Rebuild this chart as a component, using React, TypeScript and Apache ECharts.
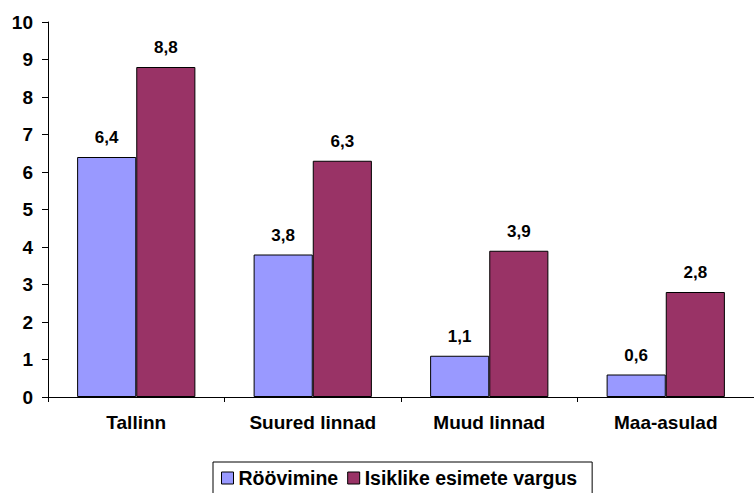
import React, { useEffect, useRef } from "react";
import * as echarts from "echarts";

const categories = ["Tallinn", "Suured linnad", "Muud linnad", "Maa-asulad"];
const seriesNames = ["Röövimine", "Isiklike esimete vargus"];
const robbery = [6.4, 3.8, 1.1, 0.6];
const theft = [8.8, 6.3, 3.9, 2.8];
const yMin = 0;
const yMax = 10;
const yInterval = 1;

const FONT = "Arial, 'Liberation Sans', sans-serif";

export default function App() {
  const ref = useRef<HTMLDivElement>(null);
  useEffect(() => {
    if (!ref.current) return;
    const chart = echarts.init(ref.current, undefined, { renderer: "svg" });
    const labelCfg = {
      show: true,
      position: "top",
      distance: 11,
      color: "#000",
      fontFamily: FONT,
      fontWeight: "bold",
      fontSize: 17,
      formatter: (p: any) => String(p.value).replace(".", ","),
    };
    chart.setOption({
      animation: false,
      backgroundColor: "#fff",
      grid: { left: 48, right: -6, top: 22, bottom: 96, containLabel: false },
      legend: {
        data: seriesNames,
        left: 213,
        top: 462,
        orient: "horizontal",
        padding: [6, 15, 6, 8],
        itemGap: 9,
        itemWidth: 12,
        itemHeight: 12,
        icon: "rect",
        borderColor: "#000",
        borderWidth: 1,
        textStyle: { color: "#000", fontFamily: FONT, fontWeight: "bold", fontSize: 19.5, padding: [0, 0, 0, 0] },
        itemStyle: { borderColor: "#000", borderWidth: 1 },
      },
      xAxis: {
        type: "category",
        data: categories,
        boundaryGap: true,
        axisLine: { show: true, lineStyle: { color: "#000", width: 1 } },
        axisTick: { show: true, length: 5, lineStyle: { color: "#000" } },
        axisLabel: { color: "#000", fontFamily: FONT, fontWeight: "bold", fontSize: 19, margin: 16 },
        splitLine: { show: false },
      },
      yAxis: {
        type: "value",
        min: yMin,
        max: yMax,
        interval: yInterval,
        axisLine: { show: true, lineStyle: { color: "#000", width: 1 } },
        axisTick: { show: true, length: 6, lineStyle: { color: "#000" } },
        axisLabel: { color: "#000", fontFamily: FONT, fontWeight: "bold", fontSize: 19, margin: 15 },
        splitLine: { show: false },
      },
      series: [
        {
          name: seriesNames[0],
          type: "bar",
          data: robbery,
          barGap: "0%",
          barCategoryGap: "33%",
          itemStyle: { color: "#9999FF", borderColor: "#000", borderWidth: 1 },
          label: labelCfg,
        },
        {
          name: seriesNames[1],
          type: "bar",
          data: theft,
          barGap: "0%",
          barCategoryGap: "33%",
          itemStyle: { color: "#993366", borderColor: "#000", borderWidth: 1 },
          label: labelCfg,
        },
      ],
    });
    return () => chart.dispose();
  }, []);
  return (
    <div
      ref={ref}
      style={{ position: "fixed", left: 0, top: 0, width: 754, height: 493, background: "#fff" }}
    />
  );
}
